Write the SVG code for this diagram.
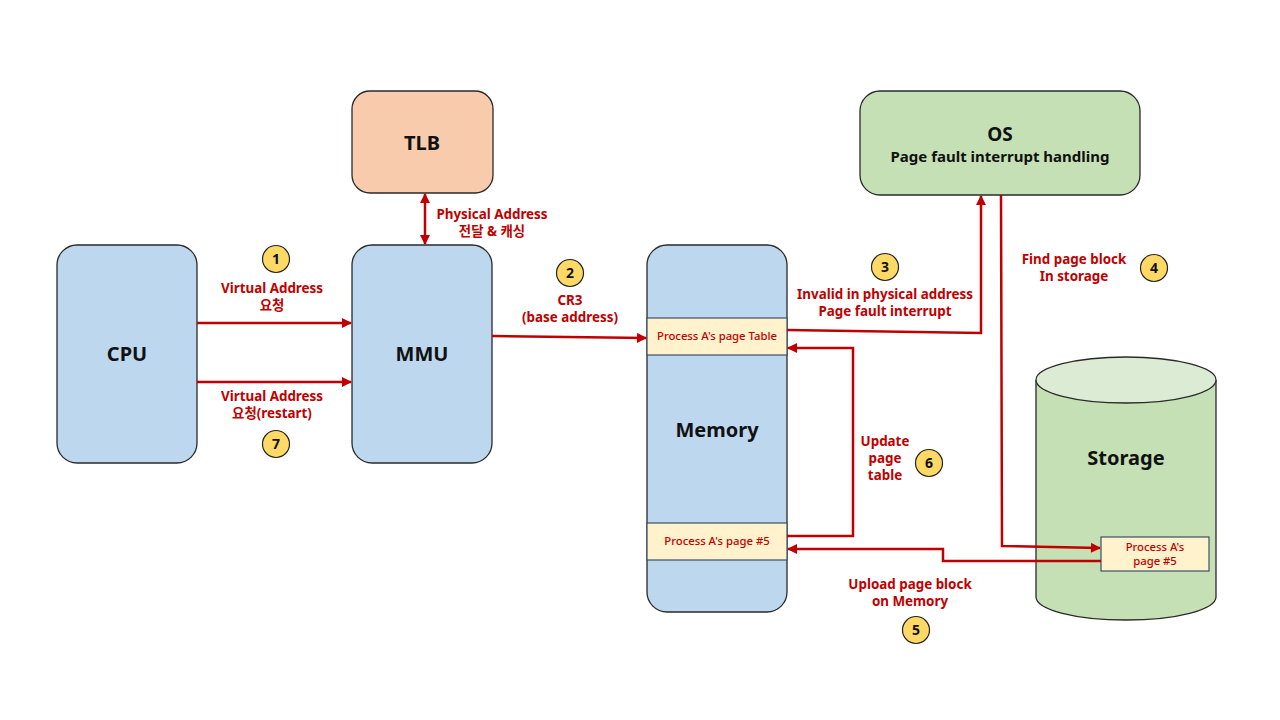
<svg xmlns="http://www.w3.org/2000/svg" width="1280" height="720" viewBox="0 0 1280 720">
<style>
.box{stroke:#2a2a2a;stroke-width:1.3}
.blue{fill:#BDD7EE}
.green{fill:#C5E0B4}
.band{fill:#FFF2CC;stroke:#3B5068;stroke-width:1.2}
.node{font-family:"Noto Sans","Noto Sans CJK KR",sans-serif;font-weight:bold;fill:#111;text-anchor:middle}
.lbl{font-family:"Noto Sans","Noto Sans CJK KR",sans-serif;font-weight:bold;fill:#C00000;font-size:13.4px;text-anchor:middle}
.small{font-family:"Noto Sans","Noto Sans CJK KR",sans-serif;font-weight:500;fill:#C00000;font-size:11.3px;text-anchor:middle}
.con{fill:none;stroke:#C00000;stroke-width:2.5}
.num{fill:#FFD966;stroke:#222;stroke-width:1.2}
.numt{font-family:"Noto Sans",sans-serif;font-weight:bold;font-size:14px;fill:#111;text-anchor:middle}
</style>
<defs>
<marker id="ah" viewBox="0 0 10 10" refX="9" refY="5" markerWidth="4.4" markerHeight="4" markerUnits="strokeWidth" orient="auto-start-reverse">
<path d="M0,0 L10,5 L0,10 z" fill="#C00000"/>
</marker>
</defs>
<rect width="1280" height="720" fill="#fff"/>

<g id="cpu">
<rect class="box blue" x="57" y="245" width="140" height="218" rx="20"/>
<text class="node" x="127" y="361" font-size="20">CPU</text>
</g>
<g id="mmu">
<rect class="box blue" x="352" y="245" width="140" height="218" rx="20"/>
<text class="node" x="422" y="361" font-size="20">MMU</text>
</g>
<g id="tlb">
<rect class="box" fill="#F8CBAD" x="352" y="91" width="141" height="102" rx="18"/>
<text class="node" x="422" y="150" font-size="20">TLB</text>
</g>
<g id="os">
<rect class="box green" x="860" y="91" width="280" height="104" rx="20"/>
<text class="node" x="1000" y="141" font-size="19">OS</text>
<text class="node" x="1000" y="162" font-size="15">Page fault interrupt handling</text>
</g>
<g id="memory">
<rect class="box blue" x="647" y="245" width="140" height="367" rx="20"/>
<rect class="band" x="647" y="318" width="140" height="37"/>
<rect class="band" x="647" y="523" width="140" height="37"/>
<text class="small" x="717" y="340">Process A's page Table</text>
<text class="small" x="717" y="545">Process A's page #5</text>
<text class="node" x="717" y="437" font-size="20">Memory</text>
</g>
<g id="storage">
<path class="box green" d="M1036,380 L1036,597 A90,23 0 0 0 1216,597 L1216,380"/>
<ellipse class="box" fill="#DCEBD3" cx="1126" cy="380" rx="90" ry="23"/>
<text class="node" x="1126" y="465" font-size="20">Storage</text>
<rect class="band" x="1101" y="537" width="108" height="34"/>
<text class="small" x="1155" y="551">Process A's</text>
<text class="small" x="1155" y="565">page #5</text>
</g>

<g id="connectors">
<line class="con" x1="197" y1="323" x2="351" y2="323" marker-end="url(#ah)"/>
<line class="con" x1="197" y1="382" x2="351" y2="382" marker-end="url(#ah)"/>
<line class="con" x1="425" y1="194" x2="425" y2="244" marker-start="url(#ah)" marker-end="url(#ah)"/>
<line class="con" x1="492" y1="336" x2="646" y2="338" marker-end="url(#ah)"/>
<polyline class="con" points="787,330 981,333 981,196" marker-end="url(#ah)"/>
<polyline class="con" points="1001,195 1002,546 1100,548" marker-end="url(#ah)"/>
<polyline class="con" points="787,536 853,536 853,348 788,348" marker-end="url(#ah)"/>
<polyline class="con" points="1101,561 943,561 943,549 788,549" marker-end="url(#ah)"/>
</g>

<g id="labels">
<text class="lbl" x="272" y="293">Virtual Address</text>
<text class="lbl" x="272" y="310">요청</text>
<text class="lbl" x="272" y="401">Virtual Address</text>
<text class="lbl" x="272" y="418">요청(restart)</text>
<text class="lbl" x="492" y="219">Physical Address</text>
<text class="lbl" x="492" y="236">전달 &amp; 캐싱</text>
<text class="lbl" x="570" y="305">CR3</text>
<text class="lbl" x="570" y="322">(base address)</text>
<text class="lbl" x="885" y="299">Invalid in physical address</text>
<text class="lbl" x="885" y="316">Page fault interrupt</text>
<text class="lbl" x="1074" y="264">Find page block</text>
<text class="lbl" x="1074" y="281">In storage</text>
<text class="lbl" x="885" y="446">Update</text>
<text class="lbl" x="885" y="463">page</text>
<text class="lbl" x="885" y="480">table</text>
<text class="lbl" x="910" y="589">Upload page block</text>
<text class="lbl" x="910" y="606">on Memory</text>
</g>

<g id="steps">
<circle class="num" cx="276" cy="259" r="13.5"/><text class="numt" x="276" y="264">1</text>
<circle class="num" cx="570" cy="273" r="13.5"/><text class="numt" x="570" y="278">2</text>
<circle class="num" cx="885" cy="267" r="13.5"/><text class="numt" x="885" y="272">3</text>
<circle class="num" cx="1154" cy="268" r="13.5"/><text class="numt" x="1154" y="273">4</text>
<circle class="num" cx="916" cy="630" r="13.5"/><text class="numt" x="916" y="635">5</text>
<circle class="num" cx="929" cy="463" r="13.5"/><text class="numt" x="929" y="468">6</text>
<circle class="num" cx="276" cy="444" r="13.5"/><text class="numt" x="276" y="449">7</text>
</g>
</svg>
